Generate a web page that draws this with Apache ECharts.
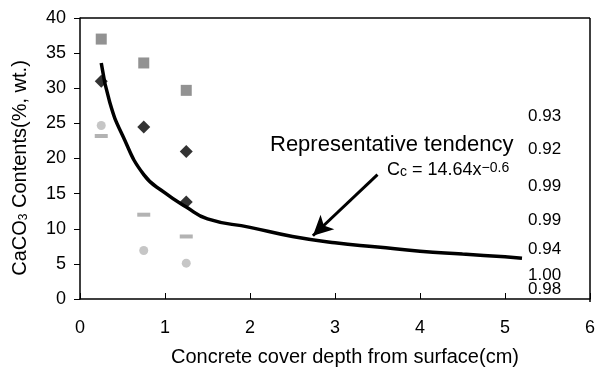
<!DOCTYPE html>
<html>
<head>
<meta charset="utf-8">
<script src="https://cdn.jsdelivr.net/npm/echarts@6/dist/echarts.min.js"></script>
<style>html,body{margin:0;padding:0;background:#fff}#c{width:609px;height:372px}</style>
</head>
<body>
<div id="c"></div>
<script>
// ---- data ----
var xTicks = [0, 1, 2, 3, 4, 5, 6];
var yTicks = [0, 5, 10, 15, 20, 25, 30, 35, 40];
var squaresX = [0.25, 0.75, 1.25];
var squaresY = [37.0, 33.6, 29.7];
var diamondsX = [0.25, 0.75, 1.25, 1.25];
var diamondsY = [31.0, 24.5, 21.0, 13.8];
var starsX = [0.25, 0.75, 1.25];
var starsY = [24.7, 6.9, 5.1];
var dashesX = [0.25, 0.75, 1.25];
var dashesY = [23.2, 12.0, 8.9];
var trendX = [0.25, 0.35, 0.5, 0.75, 1.0, 1.25, 1.5, 2.0, 2.5, 3.0, 3.5, 4.0, 4.5, 5.0, 5.2];
var trendY = [33.6, 28.0, 23.3, 17.7, 15.1, 13.1, 11.4, 10.2, 8.9, 8.0, 7.4, 6.8, 6.4, 6.0, 5.8];
var arrowFrom = [3.5, 17.7];
var arrowTo = [2.74, 9.0];
var r2Labels = ['0.93', '0.92', '0.99', '0.99', '0.94', '1.00', '0.98'];
var r2Y = [116, 149, 186, 220, 249, 275, 289];

function pairs(xs, ys) { return xs.map(function (x, i) { return [x, ys[i]]; }); }

var FONT = '"Liberation Sans", Arial, sans-serif';
var chart = echarts.init(document.getElementById('c'), null, {renderer: 'canvas'});

var graphics = [
  {type: 'line', z: 100, silent: true, shape: {x1: 80, y1: 18, x2: 590, y2: 18}, style: {stroke: '#000', lineWidth: 1.5}},
  {type: 'line', z: 100, silent: true, shape: {x1: 590, y1: 18, x2: 590, y2: 302}, style: {stroke: '#000', lineWidth: 1.5}},
  {type: 'text', x: 270, y: 145, style: {text: 'Representative tendency', font: '22px ' + FONT, fill: '#000', textAlign: 'left', textVerticalAlign: 'middle'}},
  {type: 'text', x: 387, y: 179, style: {
    text: 'C{sub|c} = 14.64x{sup|\u22120.6}', fontFamily: FONT, fontSize: 18, fill: '#000', textAlign: 'left', textVerticalAlign: 'bottom',
    rich: {sub: {fontSize: 14, fontFamily: FONT, verticalAlign: 'bottom', lineHeight: 14}, sup: {fontSize: 14, fontFamily: FONT, verticalAlign: 'top', lineHeight: 14}}
  }},
  {type: 'text', x: 20, y: 168, rotation: Math.PI / 2, style: {
    text: 'CaCO{sub|3} Contents(%, wt.)', fontFamily: FONT, fontSize: 20, fill: '#000', textAlign: 'center', textVerticalAlign: 'middle',
    rich: {sub: {fontSize: 12, fontFamily: FONT, verticalAlign: 'bottom'}}
  }}
];
r2Labels.forEach(function (t, i) {
  graphics.push({type: 'text', x: 528, y: r2Y[i], style: {text: t, font: '17px ' + FONT, fill: '#000', textAlign: 'left', textVerticalAlign: 'middle'}});
});

var xMax = xTicks[xTicks.length - 1], yMax = yTicks[yTicks.length - 1];

chart.setOption({
  animation: false,
  backgroundColor: '#fff',
  grid: {left: 80, right: 19, top: 18, bottom: 70, containLabel: false},
  xAxis: {
    type: 'value', min: xTicks[0], max: xMax, interval: 1,
    name: 'Concrete cover depth from surface(cm)', nameLocation: 'middle', nameGap: 48,
    nameTextStyle: {fontFamily: FONT, fontSize: 20, color: '#000', padding: [0, 0, 0, 20]},
    axisLine: {show: true, onZero: false, lineStyle: {color: '#000', width: 1.5}},
    axisTick: {show: true, inside: true, length: 6, lineStyle: {color: '#000'}},
    axisLabel: {fontFamily: FONT, fontSize: 18, color: '#000', margin: 20},
    splitLine: {show: false}
  },
  yAxis: {
    type: 'value', min: yTicks[0], max: yMax, interval: 5,
    axisLine: {show: true, onZero: false, lineStyle: {color: '#000', width: 1.5}},
    axisTick: {show: true, inside: false, length: 6, lineStyle: {color: '#000'}},
    axisLabel: {fontFamily: FONT, fontSize: 18, color: '#000', margin: 14},
    splitLine: {show: false}
  },
  graphic: {elements: graphics},
  series: [
    {type: 'scatter', data: pairs(squaresX, squaresY), symbol: 'rect', symbolSize: 11, itemStyle: {color: '#777'}},
    {type: 'scatter', data: pairs(starsX, starsY), symbol: 'circle', symbolSize: 9, itemStyle: {color: '#b8b8b8'}},
    {type: 'scatter', data: pairs(dashesX, dashesY), symbol: 'rect', symbolSize: [13, 4], itemStyle: {color: '#a0a0a0'}},
    {type: 'scatter', data: pairs(diamondsX, diamondsY), symbol: 'diamond', symbolSize: 13, itemStyle: {color: '#000'}},
    {
      type: 'line', data: pairs(trendX, trendY), smooth: true, symbol: 'none',
      lineStyle: {color: '#000', width: 3.5},
      markLine: {
        silent: true, symbol: ['none', 'arrow'], symbolSize: [15, 20],
        label: {show: false},
        lineStyle: {color: '#000', width: 3, type: 'solid'},
        data: [[{coord: arrowFrom}, {coord: arrowTo}]]
      }
    }
  ]
});
</script>
</body>
</html>
